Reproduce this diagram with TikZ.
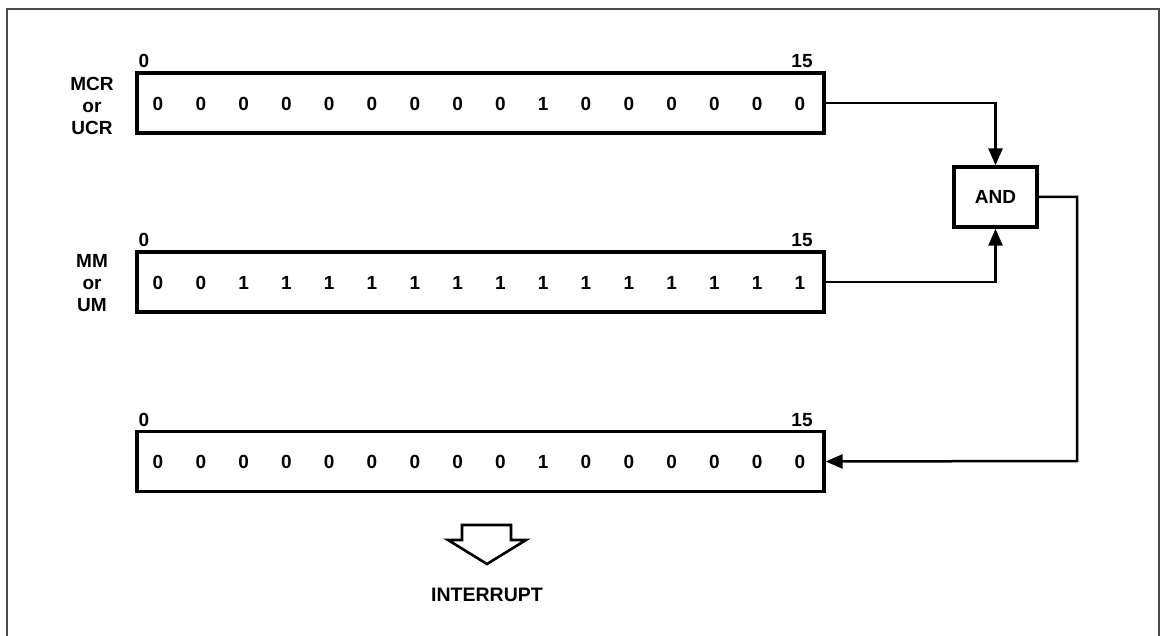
\documentclass[tikz,border=0pt]{standalone}
\usepackage{fontspec}
\setmainfont{Liberation Sans}
\usetikzlibrary{arrows.meta}
\begin{document}
\begin{tikzpicture}[x=1pt,y=-1pt,
  txt/.style={font=\bfseries\fontsize{19}{22}\selectfont, inner sep=0pt, align=center},
  reg/.style={draw, line width=3.3pt, minimum width=687pt, minimum height=60pt, inner sep=0pt},
  gate/.style={draw, line width=3.3pt, minimum width=83pt, minimum height=60pt, inner sep=0pt,
    font=\bfseries\fontsize{19}{22}\selectfont},
  wire/.style={line width=2.5pt},
  tip/.style={-{Triangle[length=17pt,width=14pt]}},
  frame/.style={line width=1.6pt, draw=black!70}
]
\useasboundingbox (0,0) rectangle (1160,636);
\clip (0,0) rectangle (1160,636);
\draw[frame] (7,9) rectangle (1159,660);

% registers
\node[reg] (r1) at (480.5,103) {};
\node[reg] (r2) at (480.5,282) {};
\node[reg] (r3) at (480.5,461.5) {};

% bit values
\foreach \b [count=\i from 0] in {0,0,0,0,0,0,0,0,0,1,0,0,0,0,0,0}
  \node[txt] (ra\i) at ({158+42.8*\i},104) {\b};
\foreach \b [count=\i from 0] in {0,0,1,1,1,1,1,1,1,1,1,1,1,1,1,1}
  \node[txt] (rb\i) at ({158+42.8*\i},283) {\b};
\foreach \b [count=\i from 0] in {0,0,0,0,0,0,0,0,0,1,0,0,0,0,0,0}
  \node[txt] (rc\i) at ({158+42.8*\i},462) {\b};

% bit index labels
\node[txt] (a0) at (144,61) {0};
\node[txt] (a15) at (802,61) {15};
\node[txt] (b0) at (144,240) {0};
\node[txt] (b15) at (802,240) {15};
\node[txt] (c0) at (144,420) {0};
\node[txt] (c15) at (802,420) {15};

% register names
\node[txt] (n1) at (92,106) {MCR\\or\\UCR};
\node[txt] (n2) at (92,283) {MM\\or\\UM};

% AND gate
\node[gate] (and) at (995.5,197) {AND};
\coordinate (c3) at (1077,461);

\draw[wire,tip] (r1.east) -| (and.north);
\draw[wire,tip] (r2.east) -| (and.south);
\draw[wire,tip] (and.east) -| (c3) -- (r3.east);

% interrupt block arrow
\draw[line width=2.6pt, line join=miter]
  (462,525) -- (511,525) -- (511,540) -- (526,540) -- (487,564) -- (448,540) -- (462,540) -- cycle;
\node[txt, font=\bfseries\fontsize{19.5}{22}\selectfont] (intr) at (487,595) {INTERRUPT};
\end{tikzpicture}
\end{document}
